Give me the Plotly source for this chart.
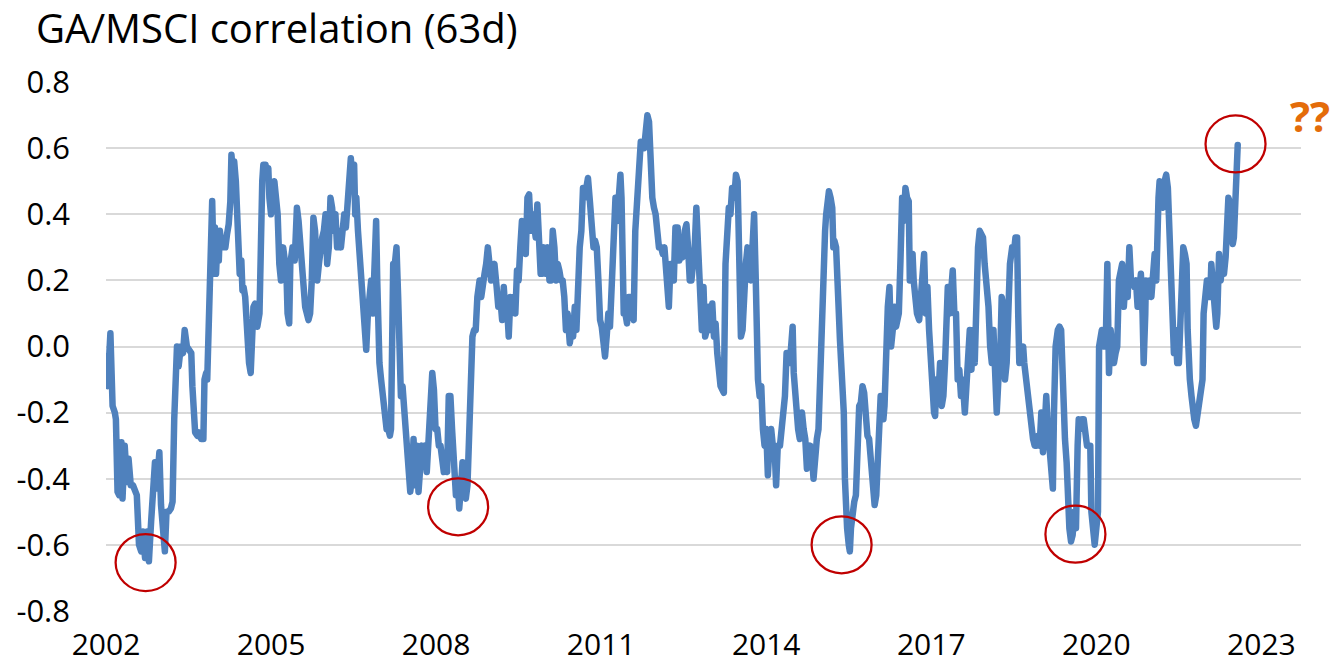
import plotly.graph_objects as go

# ---- data (decimal year, 63d correlation) ----
t_2002_2005 = [2002.02, 2002.03, 2002.08, 2002.10, 2002.12, 2002.16, 2002.18, 2002.21, 2002.24, 2002.28,
               2002.30, 2002.34, 2002.38, 2002.41, 2002.45, 2002.49, 2002.53, 2002.56, 2002.60, 2002.64,
               2002.67, 2002.71, 2002.75, 2002.78, 2002.82, 2002.86, 2002.89, 2002.92, 2002.97, 2003.00,
               2003.04, 2003.07, 2003.10, 2003.14, 2003.18, 2003.21, 2003.24, 2003.26, 2003.29, 2003.32,
               2003.36, 2003.40, 2003.43, 2003.47, 2003.51, 2003.55, 2003.57, 2003.59, 2003.62, 2003.66,
               2003.69, 2003.73, 2003.77, 2003.79, 2003.82, 2003.84, 2003.87, 2003.89, 2003.91, 2003.93,
               2003.96, 2003.98, 2004.00, 2004.02, 2004.05, 2004.07, 2004.10, 2004.14, 2004.17, 2004.20,
               2004.23, 2004.26, 2004.28, 2004.31, 2004.33, 2004.36, 2004.38, 2004.41, 2004.43, 2004.46,
               2004.48, 2004.50, 2004.53, 2004.55, 2004.58, 2004.60, 2004.63, 2004.65, 2004.68, 2004.71,
               2004.75, 2004.79, 2004.81, 2004.84, 2004.86, 2004.90, 2004.92, 2004.95, 2004.97, 2005.00,
               2005.03, 2005.06, 2005.09, 2005.12, 2005.15, 2005.18, 2005.22, 2005.24, 2005.28, 2005.30,
               2005.33, 2005.35, 2005.39, 2005.43]
v_2002_2005 = [-0.03, -0.12, 0.04, -0.10, -0.18, -0.20, -0.22, -0.44, -0.45, -0.29,
               -0.46, -0.30, -0.41, -0.34, -0.42, -0.42, -0.44, -0.45, -0.60, -0.62,
               -0.56, -0.64, -0.56, -0.65, -0.53, -0.44, -0.35, -0.43, -0.32, -0.48,
               -0.60, -0.62, -0.50, -0.50, -0.49, -0.47, -0.22, -0.01, 0.00, -0.06,
               0.00, -0.02, 0.05, 0.00, -0.01, -0.02, -0.12, -0.22, -0.26, -0.27,
               -0.26, -0.28, -0.28, -0.10, -0.08, -0.10, 0.06, 0.08, 0.24, 0.44,
               0.22, 0.36, 0.22, 0.30, 0.26, 0.35, 0.30, 0.30, 0.30, 0.34,
               0.37, 0.44, 0.58, 0.52, 0.56, 0.50, 0.40, 0.30, 0.22, 0.26,
               0.17, 0.18, 0.15, 0.08, 0.02, -0.05, -0.08, 0.02, 0.12, 0.13,
               0.06, 0.10, 0.38, 0.50, 0.55, 0.55, 0.52, 0.54, 0.45, 0.40,
               0.46, 0.50, 0.45, 0.40, 0.25, 0.20, 0.30, 0.28, 0.22, 0.10,
               0.07, 0.25, 0.30, 0.26]

t_2005_2009 = [2005.47, 2005.50, 2005.53, 2005.56, 2005.59, 2005.62, 2005.68, 2005.71, 2005.74, 2005.77,
               2005.80, 2005.84, 2005.87, 2005.90, 2005.93, 2005.96, 2005.99, 2006.02, 2006.05, 2006.08,
               2006.11, 2006.14, 2006.17, 2006.20, 2006.23, 2006.27, 2006.30, 2006.33, 2006.36, 2006.39,
               2006.42, 2006.45, 2006.48, 2006.51, 2006.53, 2006.55, 2006.58, 2006.60, 2006.63, 2006.67,
               2006.70, 2006.73, 2006.76, 2006.79, 2006.82, 2006.85, 2006.88, 2006.91, 2006.93, 2006.95,
               2006.97, 2007.00, 2007.03, 2007.06, 2007.10, 2007.13, 2007.16, 2007.18, 2007.20, 2007.22,
               2007.25, 2007.28, 2007.31, 2007.34, 2007.36, 2007.39, 2007.42, 2007.45, 2007.46, 2007.50,
               2007.53, 2007.56, 2007.59, 2007.62, 2007.65, 2007.68, 2007.71, 2007.74, 2007.77, 2007.80,
               2007.83, 2007.86, 2007.89, 2007.93, 2007.96, 2007.99, 2008.02, 2008.05, 2008.08, 2008.11,
               2008.14, 2008.17, 2008.20, 2008.23, 2008.26, 2008.29, 2008.32, 2008.36, 2008.39, 2008.42,
               2008.45, 2008.48, 2008.51, 2008.54, 2008.57, 2008.60, 2008.63, 2008.66, 2008.69, 2008.72,
               2008.75, 2008.79, 2008.82, 2008.85, 2008.88, 2008.91, 2008.94, 2008.97, 2009.00, 2009.03,
               2009.06]
v_2005_2009 = [0.42, 0.38, 0.30, 0.25, 0.15, 0.12, 0.08, 0.10, 0.20, 0.39,
               0.35, 0.20, 0.25, 0.30, 0.33, 0.35, 0.40, 0.25, 0.30, 0.45,
               0.42, 0.35, 0.40, 0.30, 0.35, 0.30, 0.35, 0.40, 0.36, 0.45,
               0.52, 0.57, 0.50, 0.55, 0.40, 0.45, 0.35, 0.30, 0.20, 0.15,
               0.05, -0.01, 0.10, 0.15, 0.20, 0.10, 0.30, 0.38, 0.20, 0.05,
               -0.05, -0.10, -0.15, -0.22, -0.25, -0.25, -0.27, -0.25, -0.10, 0.25,
               0.25, 0.30, 0.15, 0.00, -0.15, -0.12, -0.20, -0.25, -0.30, -0.40,
               -0.44, -0.40, -0.28, -0.42, -0.30, -0.44, -0.35, -0.30, -0.35, -0.30,
               -0.38, -0.28, -0.22, -0.08, -0.13, -0.25, -0.25, -0.30, -0.30, -0.35,
               -0.38, -0.35, -0.38, -0.15, -0.15, -0.25, -0.35, -0.45, -0.40, -0.49,
               -0.43, -0.35, -0.45, -0.46, -0.42, -0.20, -0.05, 0.03, 0.05, 0.05,
               0.15, 0.20, 0.15, 0.20, 0.22, 0.25, 0.30, 0.25, 0.20, 0.22,
               0.25]

t_2009_2012 = [2009.10, 2009.13, 2009.17, 2009.20, 2009.23, 2009.26, 2009.29, 2009.32, 2009.35, 2009.38,
               2009.41, 2009.44, 2009.47, 2009.50, 2009.53, 2009.56, 2009.60, 2009.63, 2009.66, 2009.69,
               2009.72, 2009.75, 2009.78, 2009.81, 2009.84, 2009.87, 2009.90, 2009.93, 2009.96, 2009.99,
               2010.03, 2010.06, 2010.09, 2010.12, 2010.15, 2010.18, 2010.21, 2010.24, 2010.27, 2010.30,
               2010.33, 2010.36, 2010.39, 2010.43, 2010.46, 2010.49, 2010.52, 2010.55, 2010.58, 2010.61,
               2010.64, 2010.67, 2010.70, 2010.73, 2010.76, 2010.79, 2010.82, 2010.86, 2010.89, 2010.92,
               2010.95, 2010.97, 2010.98, 2011.01, 2011.04, 2011.07, 2011.10, 2011.13, 2011.16, 2011.19,
               2011.22, 2011.26, 2011.29, 2011.32, 2011.35, 2011.37, 2011.38, 2011.41, 2011.44, 2011.47,
               2011.50, 2011.53, 2011.56, 2011.59, 2011.62, 2011.65, 2011.69, 2011.72, 2011.75, 2011.78,
               2011.81, 2011.84, 2011.87, 2011.90, 2011.93, 2011.96, 2011.99, 2012.02, 2012.05, 2012.09,
               2012.12, 2012.15, 2012.18, 2012.21, 2012.23, 2012.26, 2012.29, 2012.32, 2012.35, 2012.39,
               2012.42, 2012.45, 2012.48, 2012.52, 2012.55, 2012.58, 2012.61, 2012.64, 2012.67, 2012.70]
v_2009_2012 = [0.18, 0.12, 0.14, 0.08, 0.18, 0.10, 0.12, 0.03, 0.15, 0.12,
               0.15, 0.10, 0.23, 0.20, 0.30, 0.38, 0.35, 0.28, 0.45, 0.46,
               0.35, 0.40, 0.37, 0.33, 0.43, 0.35, 0.22, 0.22, 0.30, 0.22,
               0.30, 0.20, 0.20, 0.35, 0.30, 0.20, 0.25, 0.23, 0.20, 0.20,
               0.15, 0.05, 0.10, 0.01, 0.05, 0.03, 0.12, 0.05, 0.25, 0.30,
               0.35, 0.48, 0.45, 0.50, 0.51, 0.45, 0.40, 0.30, 0.32, 0.30,
               0.20, 0.10, 0.08, 0.06, 0.00, -0.03, 0.03, 0.10, 0.06, 0.20,
               0.30, 0.45, 0.38, 0.47, 0.52, 0.45, 0.15, 0.10, 0.10, 0.07,
               0.15, 0.15, 0.10, 0.08, 0.35, 0.45, 0.55, 0.62, 0.60, 0.60,
               0.65, 0.70, 0.68, 0.50, 0.45, 0.42, 0.40, 0.35, 0.30, 0.30,
               0.28, 0.30, 0.25, 0.20, 0.12, 0.25, 0.20, 0.20, 0.36, 0.36,
               0.26, 0.28, 0.27, 0.35, 0.37, 0.30, 0.20, 0.20, 0.25, 0.30]

t_2012_2016 = [2012.73, 2012.77, 2012.80, 2012.83, 2012.86, 2012.89, 2012.92, 2012.95, 2012.99, 2013.02,
               2013.05, 2013.08, 2013.11, 2013.14, 2013.17, 2013.20, 2013.23, 2013.26, 2013.29, 2013.32,
               2013.35, 2013.38, 2013.42, 2013.45, 2013.48, 2013.50, 2013.52, 2013.54, 2013.57, 2013.60,
               2013.63, 2013.66, 2013.69, 2013.72, 2013.75, 2013.78, 2013.81, 2013.83, 2013.85, 2013.88,
               2013.91, 2013.94, 2013.97, 2014.00, 2014.03, 2014.06, 2014.09, 2014.12, 2014.15, 2014.18,
               2014.21, 2014.25, 2014.28, 2014.31, 2014.34, 2014.37, 2014.40, 2014.43, 2014.46, 2014.48,
               2014.50, 2014.53, 2014.55, 2014.58, 2014.61, 2014.65, 2014.68, 2014.71, 2014.74, 2014.77,
               2014.80, 2014.83, 2014.86, 2014.89, 2014.92, 2014.95, 2014.98, 2015.00, 2015.01, 2015.04,
               2015.07, 2015.09, 2015.12, 2015.14, 2015.17, 2015.20, 2015.22, 2015.24, 2015.27, 2015.29,
               2015.32, 2015.34, 2015.36, 2015.38, 2015.41, 2015.43, 2015.45, 2015.47, 2015.50, 2015.52,
               2015.54, 2015.57, 2015.60, 2015.63, 2015.66, 2015.69, 2015.72, 2015.75, 2015.78, 2015.81,
               2015.84, 2015.87, 2015.90, 2015.94, 2015.97, 2016.00, 2016.03, 2016.06, 2016.08, 2016.10,
               2016.13, 2016.15, 2016.18, 2016.21, 2016.24, 2016.27, 2016.30, 2016.33]
v_2012_2016 = [0.42, 0.30, 0.15, 0.05, 0.18, 0.03, 0.05, 0.12, 0.05, 0.13,
               0.03, 0.07, -0.02, -0.11, -0.12, -0.13, -0.14, 0.25, 0.40, 0.42,
               0.40, 0.48, 0.45, 0.52, 0.50, 0.25, 0.20, 0.03, 0.05, 0.20,
               0.25, 0.30, 0.28, 0.20, 0.35, 0.40, 0.20, 0.00, -0.10, -0.15,
               -0.12, -0.25, -0.30, -0.25, -0.39, -0.30, -0.25, -0.30, -0.30, -0.42,
               -0.30, -0.30, -0.25, -0.17, -0.15, -0.02, -0.02, -0.05, 0.02, 0.06,
               -0.08, -0.18, -0.20, -0.25, -0.28, -0.20, -0.25, -0.28, -0.37, -0.35,
               -0.30, -0.33, -0.40, -0.30, -0.28, -0.25, -0.10, 0.10, 0.18, 0.30,
               0.35, 0.40, 0.45, 0.47, 0.45, 0.42, 0.30, 0.32, 0.30, 0.15,
               0.10, 0.02, -0.05, -0.12, -0.20, -0.40, -0.50, -0.55, -0.60, -0.62,
               -0.55, -0.50, -0.47, -0.45, -0.30, -0.18, -0.17, -0.12, -0.14, -0.25,
               -0.27, -0.28, -0.35, -0.42, -0.48, -0.45, -0.30, -0.20, -0.15, -0.22,
               -0.22, -0.18, 0.00, 0.12, 0.18, 0.00, 0.05, 0.12]

t_2016_2020 = [2016.36, 2016.41, 2016.44, 2016.47, 2016.50, 2016.53, 2016.56, 2016.59, 2016.61, 2016.63,
               2016.66, 2016.68, 2016.71, 2016.74, 2016.78, 2016.81, 2016.84, 2016.87, 2016.90, 2016.93,
               2016.96, 2016.99, 2017.02, 2017.05, 2017.07, 2017.09, 2017.13, 2017.16, 2017.19, 2017.22,
               2017.25, 2017.27, 2017.30, 2017.33, 2017.36, 2017.39, 2017.42, 2017.45, 2017.48, 2017.51,
               2017.54, 2017.57, 2017.61, 2017.64, 2017.67, 2017.70, 2017.73, 2017.76, 2017.79, 2017.82,
               2017.85, 2017.88, 2017.91, 2017.94, 2017.97, 2018.00, 2018.04, 2018.07, 2018.10, 2018.13,
               2018.16, 2018.19, 2018.22, 2018.25, 2018.28, 2018.31, 2018.34, 2018.37, 2018.40, 2018.43,
               2018.47, 2018.50, 2018.53, 2018.56, 2018.58, 2018.60, 2018.63, 2018.67, 2018.69, 2018.72,
               2018.75, 2018.79, 2018.82, 2018.85, 2018.88, 2018.91, 2018.94, 2018.97, 2019.00, 2019.03,
               2019.06, 2019.09, 2019.12, 2019.15, 2019.18, 2019.21, 2019.23, 2019.26, 2019.30, 2019.33,
               2019.36, 2019.38, 2019.40, 2019.43, 2019.46, 2019.48, 2019.51, 2019.54, 2019.57, 2019.60,
               2019.63, 2019.66, 2019.68, 2019.71, 2019.74, 2019.77, 2019.80, 2019.83, 2019.86, 2019.89,
               2019.91, 2019.94, 2019.97, 2020.00, 2020.03]
v_2016_2020 = [0.06, 0.10, 0.26, 0.45, 0.38, 0.48, 0.45, 0.44, 0.20, 0.25,
               0.28, 0.20, 0.12, 0.10, 0.08, 0.15, 0.25, 0.28, 0.10, 0.18,
               0.05, -0.05, -0.10, -0.20, -0.21, -0.10, -0.15, -0.05, -0.18, -0.15,
               -0.05, 0.05, 0.18, 0.10, 0.15, 0.23, 0.10, 0.10, -0.10, -0.07,
               -0.15, -0.10, -0.20, -0.12, -0.05, 0.05, -0.07, 0.05, -0.05, 0.25,
               0.30, 0.35, 0.33, 0.33, 0.25, 0.20, 0.12, 0.00, -0.05, 0.05,
               -0.15, -0.20, -0.10, -0.05, 0.15, 0.12, -0.10, -0.05, 0.10, 0.25,
               0.30, 0.28, 0.33, 0.33, 0.10, -0.05, -0.02, 0.00, -0.05, -0.10,
               -0.12, -0.20, -0.22, -0.28, -0.30, -0.30, -0.27, -0.30, -0.20, -0.32,
               -0.25, -0.15, -0.25, -0.32, -0.35, -0.43, -0.20, 0.00, 0.05, 0.06,
               0.05, -0.10, -0.20, -0.28, -0.35, -0.45, -0.55, -0.59, -0.57, -0.50,
               -0.55, -0.30, -0.22, -0.25, -0.22, -0.22, -0.25, -0.30, -0.30, -0.30,
               -0.50, -0.55, -0.60, -0.55, -0.50]

t_2020_2022 = [2020.05, 2020.07, 2020.10, 2020.14, 2020.17, 2020.20, 2020.23, 2020.26, 2020.29, 2020.32,
               2020.35, 2020.38, 2020.41, 2020.44, 2020.47, 2020.50, 2020.53, 2020.57, 2020.60, 2020.63,
               2020.66, 2020.69, 2020.72, 2020.75, 2020.78, 2020.81, 2020.84, 2020.86, 2020.89, 2020.90,
               2020.94, 2020.97, 2021.00, 2021.03, 2021.06, 2021.09, 2021.11, 2021.13, 2021.15, 2021.18,
               2021.21, 2021.24, 2021.27, 2021.30, 2021.33, 2021.37, 2021.38, 2021.41, 2021.44, 2021.47,
               2021.50, 2021.52, 2021.55, 2021.58, 2021.61, 2021.64, 2021.66, 2021.68, 2021.70, 2021.73,
               2021.75, 2021.78, 2021.81, 2021.84, 2021.87, 2021.90, 2021.93, 2021.95, 2021.98, 2022.01,
               2022.04, 2022.07, 2022.09, 2022.12, 2022.15, 2022.18, 2022.20, 2022.23, 2022.26, 2022.29,
               2022.32, 2022.35, 2022.38, 2022.40, 2022.42, 2022.45, 2022.48, 2022.50, 2022.52, 2022.55,
               2022.57]
v_2020_2022 = [0.00, 0.02, 0.05, 0.00, 0.00, 0.25, -0.08, 0.05, 0.00, -0.05,
               -0.02, 0.00, 0.20, 0.22, 0.25, 0.12, 0.20, 0.15, 0.30, 0.20,
               0.20, 0.18, 0.20, 0.12, 0.20, 0.22, 0.10, -0.05, 0.10, 0.20,
               0.15, 0.20, 0.15, 0.26, 0.28, 0.20, 0.40, 0.45, 0.50, 0.45,
               0.42, 0.50, 0.52, 0.48, 0.30, 0.20, 0.00, -0.02, 0.05, -0.05,
               -0.05, 0.05, 0.25, 0.30, 0.28, 0.25, 0.05, -0.10, -0.10, -0.15,
               -0.20, -0.22, -0.24, -0.20, -0.15, -0.12, -0.10, 0.10, 0.18, 0.20,
               0.18, 0.15, 0.25, 0.15, 0.12, 0.06, 0.10, 0.28, 0.20, 0.25,
               0.22, 0.27, 0.40, 0.45, 0.44, 0.35, 0.31, 0.33, 0.45, 0.55,
               0.61]

dates = t_2002_2005 + t_2005_2009 + t_2009_2012 + t_2012_2016 + t_2016_2020 + t_2020_2022
corr = v_2002_2005 + v_2005_2009 + v_2009_2012 + v_2012_2016 + v_2016_2020 + v_2020_2022

x_ticks = [2002, 2005, 2008, 2011, 2014, 2017, 2020, 2023]
y_ticks = [0.8, 0.6, 0.4, 0.2, 0.0, -0.2, -0.4, -0.6, -0.8]
y_labels = ["%.1f" % v for v in y_ticks]

# highlighted episodes (red rings)
ring_dates = [2002.72, 2008.40, 2015.37, 2019.62, 2022.53]
ring_values = [-0.654, -0.485, -0.600, -0.568, 0.613]

FONT = "Open Sans"
W, H = 1333, 666
L, R, T, B = 106, 32, 82, 55

fig = go.Figure()
fig.add_trace(go.Scatter(
    x=dates, y=corr, mode="lines",
    line=dict(color="rgb(79,129,189)", width=6.5),
    showlegend=False, hoverinfo="x+y",
))

shapes = []
for rd, rv in zip(ring_dates, ring_values):
    shapes.append(dict(
        type="circle", xref="x", yref="y",
        xsizemode="pixel", ysizemode="pixel",
        xanchor=rd, yanchor=rv,
        x0=-30, x1=30, y0=-28.5, y1=28.5,
        line=dict(color="rgb(192,0,0)", width=2.25),
        layer="above",
    ))

plot_w = W - L - R
plot_h = H - T - B

fig.update_layout(
    width=W, height=H,
    margin=dict(l=L, r=R, t=T, b=B, autoexpand=False),
    paper_bgcolor="white", plot_bgcolor="white",
    font=dict(family=FONT, color="black"),
    title=dict(
        text="GA/MSCI correlation (63d)",
        font=dict(family=FONT, size=40, color="black"),
        xref="container", x=36 / W, xanchor="left",
        yref="container", y=1 - 29 / H, yanchor="middle",
    ),
    shapes=shapes,
    annotations=[dict(
        text="<b>??</b>", xref="paper", yref="paper",
        x=(W - 1 - L) / plot_w, y=(H - B - 115) / plot_h,
        xanchor="right", yanchor="middle",
        showarrow=False,
        font=dict(family=FONT, size=42, color="rgb(228,108,10)"),
    )],
    xaxis=dict(
        range=[2002, 2023.72], automargin=False,
        tickvals=x_ticks, ticktext=[str(v) for v in x_ticks],
        showgrid=False, zeroline=False, showline=False, ticks="",
        tickfont=dict(family=FONT, size=30, color="black"),
        ticklabelstandoff=13,
    ),
    yaxis=dict(
        range=[-0.8005, 0.8005], automargin=False,
        tickvals=y_ticks, ticktext=y_labels,
        showgrid=True, gridcolor="#d9d9d9", gridwidth=1.5,
        zeroline=False, showline=False, ticks="",
        tickfont=dict(family=FONT, size=31, color="black"),
        ticklabelstandoff=35,
    ),
)

post = (
    "document.body.style.margin='0';"
    "document.querySelectorAll('.js-line').forEach(function(p){"
    "p.style.strokeLinejoin='round';p.style.strokeLinecap='round';});"
)
fig.write_html("out.html", post_script=post, config={"displayModeBar": False})
